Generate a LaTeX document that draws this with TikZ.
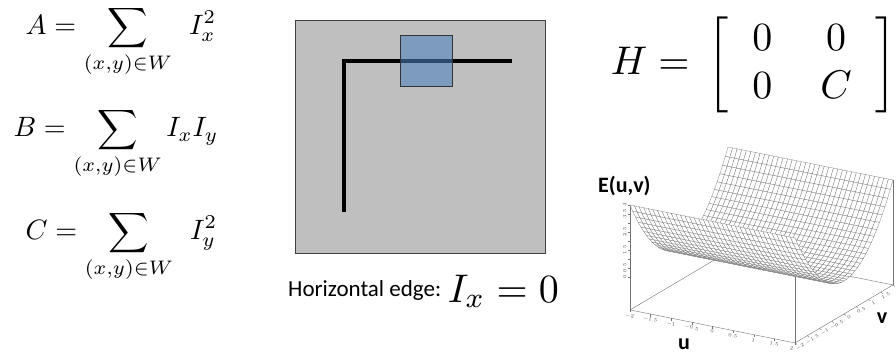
\documentclass[tikz,border=0pt]{standalone}
\usepackage{fontspec}
\newfontfamily\calibri{Carlito}
\usetikzlibrary{positioning}
\definecolor{patchblue}{RGB}{79,129,189}

\begin{document}
\begin{tikzpicture}[x=1pt, y=-1pt,
    eq/.style={inner sep=0pt, scale=2.8, transform shape},
    big/.style={inner sep=0pt, scale=4, transform shape},
    lbl/.style={inner sep=0pt, font=\calibri\fontsize{23}{28}\selectfont},
    axlbl/.style={inner sep=0pt, font=\calibri\bfseries\fontsize{22}{26}\selectfont},
    tick/.style={inner sep=0pt, font=\fontsize{4.5}{5}\selectfont, text=black!70},
    mesh/.style={fill=white, draw=black!55, line width=0.25pt},
    frame/.style={draw=black!55, line width=0.4pt}
]
\useasboundingbox (0,0) rectangle (896,352);

% entries of the structure tensor
\node[eq, anchor=base west] (suma) at (25,35) {$\displaystyle A = \sum_{(x,y)\in W} \;\, I_x^2$};
\node[eq, anchor=base west] (sumb) at (13,137) {$\displaystyle B = \sum_{(x,y)\in W} I_x I_y$};
\node[eq, anchor=base west] (sumc) at (25,240) {$\displaystyle C = \sum_{(x,y)\in W} \;\, I_y^2$};

% image patch with an L-shaped edge
\draw[draw=black!75, fill=black!25, line width=1pt] (295,21) rectangle (545,254);
\draw[line width=3.2pt] (344,212) |- (512,61);
\filldraw[fill=patchblue, fill opacity=0.58, draw=black!80, line width=0.8pt] (400,35) rectangle (452,86);

\node[lbl, anchor=base west] (hlabel) at (288,297) {Horizontal edge:};
\node[big, anchor=base west] (ixzero) at (447,302) {$I_x = 0$};

% second moment matrix
\node[big, anchor=base west] (hess) at (610,75)
    {\setlength{\arraycolsep}{6pt}$H = \,\bigg[\begin{array}{cc} 0 & 0 \\ 0 & C \end{array}\bigg]$};

% error surface E(u,v)
\begin{scope}[shift={(761.5,264.5)}, x={(41.25pt,-8.25pt)}, y={(24.5pt,14.5pt)}, z={(0pt,18pt)}]
  \draw[frame] (-2,-2,-1.83) -- (2,-2,-1.83) -- (2,2,-1.83) -- (-2,2,-1.83) -- cycle;
  \draw[frame] (-2,-2,-1.83) -- (-2,-2,4);
  \draw[frame] (2,-2,-1.83) -- (2,-2,4);
  \draw[frame] (2,2,-1.83) -- (2,2,4);
  \foreach \t in {0,0.5,...,4}
    \draw[frame] (-2,-2,\t) -- ++(-2.5pt,0);
  \foreach \t in {0,0.5,1.5,2.5,3.5,4}
    \path (-2,-2,\t) ++(-3.5pt,0) node[tick, rotate=90, anchor=south] {$\t$};
  \foreach \t in {-2,-1.5,-1,-0.5,0,0.5,1,1.5}{
    \draw[frame] (\t,-2,-1.83) -- ++(0,-2.5pt);
    \path (\t,-2,-1.83) ++(0,-3.5pt) node[tick, rotate=-11, anchor=north] {$\t$};
  }
  \draw[frame] (2,-2,-1.83) -- ++(0,-2.5pt);
  \path (2,-2,-1.83) ++(-3pt,-3.5pt) node[tick, rotate=-11, anchor=north] {$2$};
  \foreach \t in {-2,-1.5,-1,-0.5,0,0.5,1,1.5,2}{
    \draw[frame] (2,\t,-1.83) -- ++(2pt,-1.5pt);
    \path (2,\t,-1.83) ++(4pt,-2pt) node[tick, rotate=31, anchor=north] {$\t$};
  }
  \foreach \j in {0,...,35}{
    \pgfmathsetmacro{\va}{2-\j/9}
    \pgfmathsetmacro{\vb}{\va-1/9}
    \pgfmathsetmacro{\za}{\va*\va}
    \pgfmathsetmacro{\zb}{\vb*\vb}
    \foreach \i in {0,...,35}{
      \pgfmathsetmacro{\ua}{-2+\i/9}
      \pgfmathsetmacro{\ub}{\ua+1/9}
      \filldraw[mesh] (\ua,\va,\za) -- (\ub,\va,\za) -- (\ub,\vb,\zb) -- (\ua,\vb,\zb) -- cycle;
    }
  }
\end{scope}

\node[axlbl, anchor=base west] (elabel) at (598,193) {E(u,v)};
\node[axlbl] (ulabel) at (684,344) {u};
\node[axlbl] (vlabel) at (882,318) {v};
\end{tikzpicture}
\end{document}
